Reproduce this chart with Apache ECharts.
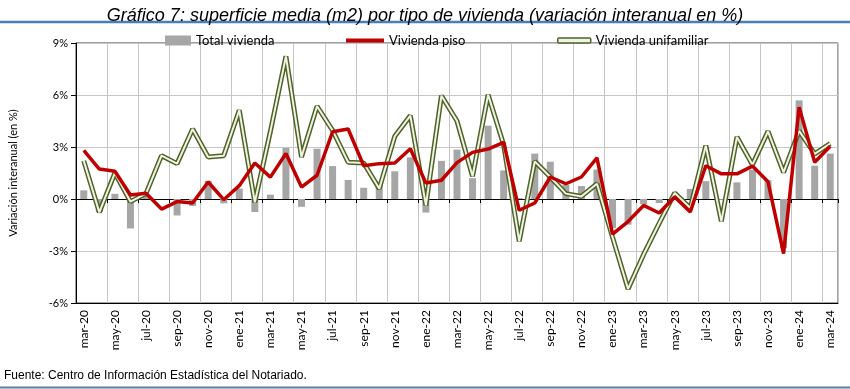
<!DOCTYPE html>
<html>
<head>
<meta charset="utf-8">
<script src="https://cdn.jsdelivr.net/npm/echarts@6/dist/echarts.min.js"></script>
<style>
html,body{margin:0;padding:0;background:#fff;}
#chart{width:850px;height:389px;}
</style>
</head>
<body>
<div id="chart"></div>
<script>
var months = ['mar-20','abr-20','may-20','jun-20','jul-20','ago-20','sep-20','oct-20','nov-20','dic-20',
  'ene-21','feb-21','mar-21','abr-21','may-21','jun-21','jul-21','ago-21','sep-21','oct-21','nov-21','dic-21',
  'ene-22','feb-22','mar-22','abr-22','may-22','jun-22','jul-22','ago-22','sep-22','oct-22','nov-22','dic-22',
  'ene-23','feb-23','mar-23','abr-23','may-23','jun-23','jul-23','ago-23','sep-23','oct-23','nov-23','dic-23',
  'ene-24','feb-24','mar-24'];

var totalVivienda = [0.5,-0.75,0.3,-1.7,0.2,0.0,-0.95,-0.4,1.05,-0.25,
  0.6,-0.75,0.25,2.95,-0.45,2.9,1.9,1.1,0.65,0.78,1.6,2.4,
  -0.78,2.2,2.85,1.2,4.23,1.65,0.05,2.62,2.15,0.82,0.75,1.7,
  -1.67,-1.48,-0.3,-0.23,0.0,0.58,1.03,-0.05,0.96,1.69,1.08,-2.83,
  5.69,1.92,2.62];

var viviendaPiso = [2.8,1.73,1.6,0.23,0.33,-0.58,-0.15,-0.23,0.98,-0.04,
  0.77,2.08,1.26,2.62,0.69,1.37,3.88,4.04,1.92,2.04,2.08,2.9,
  0.92,1.08,2.1,2.69,2.88,3.27,-0.65,-0.23,1.27,0.88,1.27,2.37,
  -2.03,-1.3,-0.37,-0.81,0.12,-0.75,1.92,1.45,1.45,1.9,0.99,-3.15,
  5.3,2.12,3.04];

var viviendaUnifamiliar = [2.2,-0.77,1.5,-0.15,0.31,2.5,2.04,4.04,2.42,2.5,
  5.12,-0.19,3.9,8.23,2.42,5.35,3.96,2.12,2.08,0.6,3.62,4.81,
  -0.37,5.96,4.5,1.31,6.02,3.13,-2.44,2.17,1.27,0.31,0.15,0.88,
  -2.2,-5.19,-3.2,-1.4,0.35,-0.52,3.08,-1.29,3.58,1.98,3.9,1.54,
  3.93,2.6,3.2];

var yTicks = {min: -6, max: 9, step: 3};

var chart = echarts.init(document.getElementById('chart'), null, {renderer: 'canvas'});
var baseFont = 'Lato, "Liberation Sans", sans-serif';
var option = {
  animation: false,
  backgroundColor: '#ffffff',
  title: {
    text: 'Gráfico 7: superficie media (m2) por tipo de vivienda (variación interanual en %)',
    left: 'center', top: 2,
    textStyle: {fontSize: 18, fontStyle: 'italic', fontWeight: 'normal', fontFamily: '"Liberation Sans", Arial, sans-serif', color: '#000'}
  },
  legend: [
    {data: [{name: 'Total vivienda', icon: 'rect'}], left: 160, top: 29, itemWidth: 26, itemHeight: 10, itemGap: 5,
      textStyle: {fontSize: 13, color: '#000', fontFamily: baseFont}, selectedMode: false},
    {data: [{name: 'Vivienda piso', icon: 'rect'}], left: 341, top: 29, itemWidth: 38, itemHeight: 4,
      textStyle: {fontSize: 13, color: '#000', fontFamily: baseFont}, selectedMode: false},
    {data: [{name: 'Vivienda unifamiliar', icon: 'roundRect', itemStyle: {color: '#eef3e2', borderColor: '#4f6228', borderWidth: 1.5}}],
      left: 552, top: 29, itemWidth: 33, itemHeight: 5,
      textStyle: {fontSize: 13, color: '#000', fontFamily: baseFont}, selectedMode: false}
  ],
  grid: {left: 71, right: 12, top: 43, bottom: 86, show: true, borderColor: '#404040', borderWidth: 1, containLabel: false},
  xAxis: [
    {
      type: 'category', data: months, position: 'bottom',
      axisLine: {onZero: false, lineStyle: {color: '#000', width: 1}},
      axisTick: {show: false},
      axisLabel: {interval: 1, rotate: 90, fontSize: 12, color: '#000', margin: 7, fontFamily: baseFont},
      splitLine: {show: true, interval: 1, lineStyle: {color: '#c6c6c6', width: 1}}
    },
    {
      type: 'category', data: months, position: 'top',
      axisLine: {onZero: true, lineStyle: {color: '#000', width: 1}},
      axisTick: {show: true, interval: 1, inside: true, length: 4, lineStyle: {color: '#000'}},
      axisLabel: {show: false},
      splitLine: {show: false}
    }
  ],
  yAxis: {
    type: 'value', min: yTicks.min, max: yTicks.max, interval: yTicks.step,
    name: 'Variación interanual (en %)', nameLocation: 'middle', nameRotate: 90, nameGap: 57,
    nameTextStyle: {fontSize: 11, color: '#000', fontFamily: baseFont},
    axisLine: {show: true, lineStyle: {color: '#000', width: 1}},
    axisTick: {show: true, length: 5, lineStyle: {color: '#000'}},
    axisLabel: {formatter: '{value}%', fontSize: 11, color: '#000', margin: 8, fontFamily: baseFont},
    splitLine: {show: true, lineStyle: {color: '#c6c6c6', width: 1}}
  },
  series: [
    {name: 'Total vivienda', type: 'bar', data: totalVivienda, barWidth: 7, itemStyle: {color: '#a6a6a6'}, z: 2},
    {name: 'Vivienda unifamiliar', type: 'line', data: viviendaUnifamiliar, symbol: 'none',
      lineStyle: {color: '#4f6228', width: 5}, itemStyle: {color: '#4f6228'}, z: 3},
    {name: 'unifamiliar_inner', type: 'line', data: viviendaUnifamiliar, symbol: 'none',
      lineStyle: {color: '#eef3e2', width: 2}, itemStyle: {color: '#eef3e2'}, z: 4, silent: true},
    {name: 'Vivienda piso', type: 'line', data: viviendaPiso, symbol: 'none',
      lineStyle: {color: '#c00000', width: 3.5}, itemStyle: {color: '#c00000'}, z: 5}
  ],
  graphic: [
    {type: 'line', shape: {x1: 0, y1: 22, x2: 850, y2: 22}, style: {stroke: '#4a7ebb', lineWidth: 2.5}},
    {type: 'line', shape: {x1: 0, y1: 387.5, x2: 850, y2: 387.5}, style: {stroke: '#5a7fa6', lineWidth: 2}},
    {type: 'text', left: 4, top: 370, style: {text: 'Fuente: Centro de Información Estadística del Notariado.', fontSize: 12, fill: '#000', fontFamily: '"Liberation Sans Narrow", "Liberation Sans", Arial, sans-serif'}}
  ]
};
chart.setOption(option);
</script>
</body>
</html>
